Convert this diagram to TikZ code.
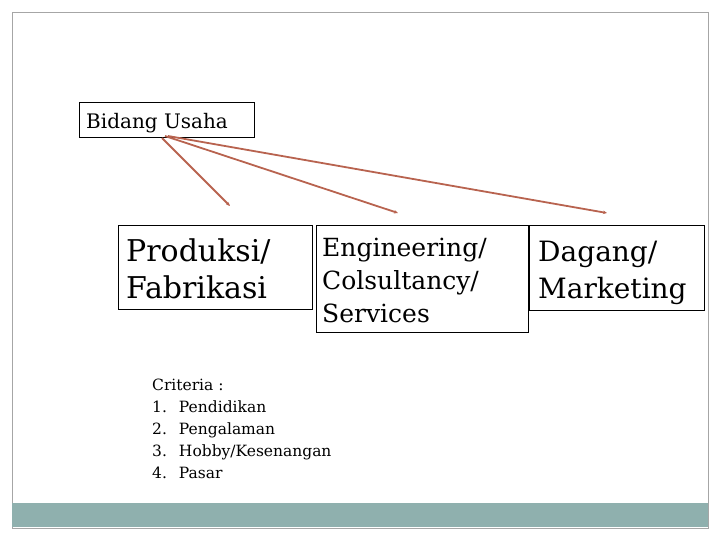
\documentclass[tikz,border=0pt]{standalone}
\usepackage{fontspec}
\setmainfont{DejaVu Serif}
\usetikzlibrary{arrows.meta}
\usetikzlibrary{positioning}
\definecolor{linkred}{HTML}{B8634F}
\definecolor{barteal}{HTML}{8FB0AE}
\begin{document}
\begin{tikzpicture}[x=1pt, y=-1pt]
	\tikzset{fieldbox/.style={draw, thin, anchor=north west, inner sep=0pt},
		fieldtext/.style={anchor=base west, align=left, inner sep=0pt},
		myarrow_dir/.style={-{Stealth[length=4pt, width=3.5pt]}, linkred, line width=1.8pt},}
	
	\useasboundingbox (0,0) rectangle (720,540);
	\draw[gray!70] (12,12) rectangle (708,528);
	\fill[barteal] (12,503) rectangle (708,527);
	
	\node[fieldbox, minimum width=175pt, minimum height=35pt] (bidang) at (79,102) {};
	\node[fieldtext, font=\fontsize{20}{22}\selectfont] (tbidang) at (86,129) {Bidang Usaha};
	
	% multi-line texts: anchored at the baseline of their last line
	\node[fieldbox, minimum width=194pt, minimum height=84pt] (produksi) at (118,225) {};
	\node[fieldtext, font=\fontsize{30}{37}\selectfont] (tproduksi) at (126,298) {Produksi/\\Fabrikasi};
	
	\node[fieldbox, minimum width=212pt, minimum height=107pt] (engineering) at (316,225) {};
	\node[fieldtext, font=\fontsize{25}{33}\selectfont] (tengineering) at (322,322) {Engineering/\\Colsultancy/\\Services};
	
	\node[fieldbox, minimum width=175pt, minimum height=85pt] (dagang) at (529,225) {};
	\node[fieldtext, font=\fontsize{28}{36}\selectfont] (tdagang) at (538,298) {Dagang/\\Marketing};
	
	\node[fieldtext, font=\fontsize{15.5}{22}\selectfont] (criteria) at (152,478)
		{Criteria :\\
		 1.\hspace{12pt}Pendidikan\\
		 2.\hspace{12pt}Pengalaman\\
		 3.\hspace{12pt}Hobby/Kesenangan\\
		 4.\hspace{12pt}Pasar};
	
	\coordinate (src1) at (162,138);
	\coordinate (src2) at (165,136);
	\coordinate (src3) at (168,136);
	\coordinate (end1) at (230,206);
	\coordinate (end2) at (398,213);
	\coordinate (end3) at (607,213);
	\draw[myarrow_dir] (src1) -- (end1);
	\draw[myarrow_dir] (src2) -- (end2);
	\draw[myarrow_dir] (src3) -- (end3);
	
\end{tikzpicture}
\end{document}
